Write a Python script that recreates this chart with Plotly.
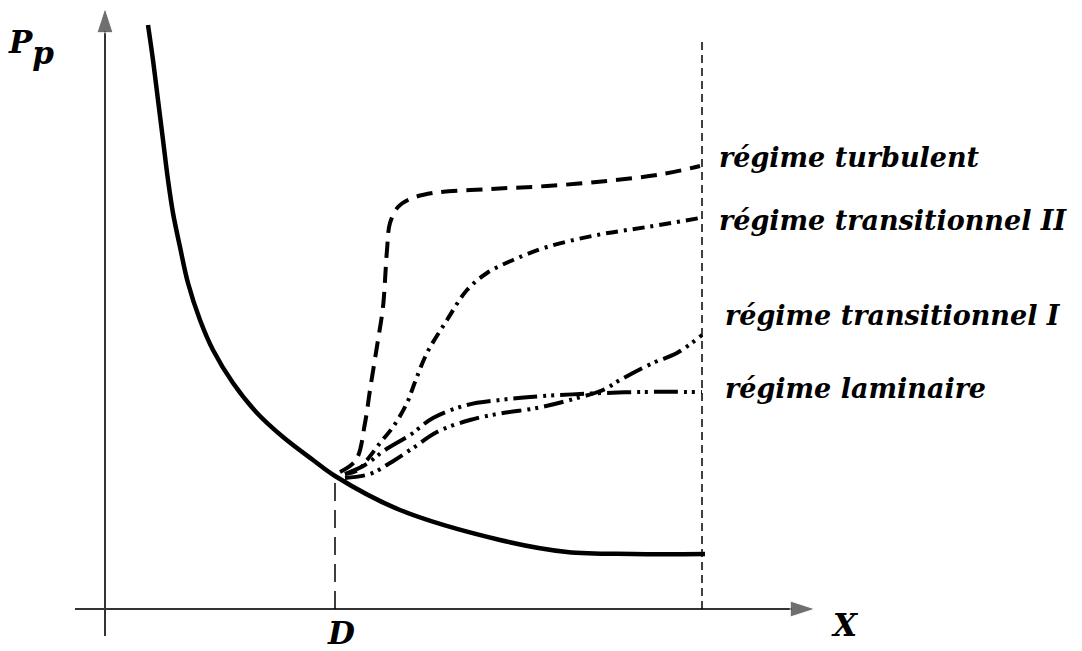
''' Schematic: wall pressure Pp vs distance X, regimes after point D '''

import plotly.graph_objects as go

# (arbitrary units: x from the vertical axis, y from the horizontal axis)
X_D = 2.30          # position of D
X_END = 5.97        # right-hand dashed limit
Y_END_TOP = 5.71    # top of the right-hand dashed limit

BASE_X = [0.43, 0.48, 0.53, 0.58, 0.63, 0.68, 0.75, 0.83, 0.95, 1.08, 1.28, 1.52, 1.78, 2.08, 2.30,
          2.95, 3.95, 4.62, 5.28, 6.00]
BASE_Y = [5.84, 5.49, 5.09, 4.69, 4.29, 3.96, 3.62, 3.26, 2.89, 2.59, 2.26, 1.96, 1.72, 1.49, 1.33,
          0.99, 0.69, 0.57, 0.55, 0.55]
Y_AT_D = 1.31

TURB_X = [2.35, 2.51, 2.60, 2.65, 2.73, 2.78, 2.82, 2.85, 2.93, 3.05, 3.28, 3.85, 4.42, 5.02, 5.58, 5.95]
TURB_Y = [1.37, 1.49, 1.86, 2.19, 2.69, 3.02, 3.59, 3.86, 4.02, 4.10, 4.16, 4.20, 4.23, 4.28, 4.35, 4.43]

TR2_X = [2.40, 2.53, 2.62, 2.75, 2.88, 3.02, 3.10, 3.22, 3.42, 3.62, 3.82, 4.08, 4.42, 4.92, 5.42, 5.95]
TR2_Y = [1.35, 1.39, 1.49, 1.66, 1.82, 2.06, 2.27, 2.56, 2.89, 3.19, 3.36, 3.49, 3.62, 3.74, 3.82, 3.91]

TR1_X = [2.40, 2.65, 2.85, 3.08, 3.32, 3.65, 3.98, 4.32, 4.65, 4.98, 5.15, 5.48, 5.72, 5.97]
TR1_Y = [1.31, 1.35, 1.46, 1.61, 1.77, 1.89, 1.96, 2.01, 2.09, 2.19, 2.29, 2.46, 2.56, 2.74]

LAM_X = [2.40, 2.60, 2.80, 3.05, 3.28, 3.62, 3.95, 4.25, 4.75, 5.35, 5.97]
LAM_Y = [1.35, 1.44, 1.59, 1.74, 1.91, 2.04, 2.09, 2.12, 2.15, 2.17, 2.17]

LABELS = ['régime turbulent', 'régime transitionnel II', 'régime transitionnel I', 'régime laminaire']
LABEL_X = [6.12, 6.12, 6.18, 6.18]
LABEL_Y = [4.52, 3.89, 2.94, 2.21]

# Axis extents (tail, tip)
YAXIS_Y = [-0.27, 6.01]
XAXIS_X = [-0.30, 7.10]

FONT = dict(family='DejaVu Serif', color='black', weight='bold', style='italic')
AXIS_COLOR = '#333'

fig = go.Figure()

# Axes drawn as lines with an arrow marker at the tip
fig.add_trace(go.Scatter(x=[0, 0], y=YAXIS_Y, mode='lines+markers',
                         line=dict(color=AXIS_COLOR, width=2),
                         marker=dict(symbol='arrow', size=[0, 26], angleref='previous', color=AXIS_COLOR)))
fig.add_trace(go.Scatter(x=XAXIS_X, y=[0, 0], mode='lines+markers',
                         line=dict(color=AXIS_COLOR, width=2),
                         marker=dict(symbol='arrow', size=[0, 26], angleref='previous', color=AXIS_COLOR)))

# Main decreasing curve
fig.add_trace(go.Scatter(x=BASE_X, y=BASE_Y, mode='lines',
                         line=dict(color='black', width=4.5, shape='spline')))

# Four regime curves branching off at D
styles = [
    (TURB_X, TURB_Y, '16px,9px'),
    (TR2_X, TR2_Y, '12px,6px,3px,6px'),
    (TR1_X, TR1_Y, '20px,6px,3px,5px,3px,6px'),
    (LAM_X, LAM_Y, '24px,6px,3px,5px,3px,6px'),
]
for xs, ys, dash in styles:
    fig.add_trace(go.Scatter(x=xs, y=ys, mode='lines',
                             line=dict(color='black', width=4, dash=dash, shape='spline')))

# Vertical dashed guides at D and at the end
fig.add_trace(go.Scatter(x=[X_D, X_D], y=[0, Y_AT_D], mode='lines',
                         line=dict(color='black', width=1.5, dash='18px,9px')))
fig.add_trace(go.Scatter(x=[X_END, X_END], y=[0, Y_END_TOP], mode='lines',
                         line=dict(color='black', width=1.5, dash='8px,5px')))

# Regime labels
for txt, lx, ly in zip(LABELS, LABEL_X, LABEL_Y):
    fig.add_annotation(x=lx, y=ly, text=txt, showarrow=False, xanchor='left', yanchor='middle',
                       font=dict(FONT, size=27))

# Axis labels (Pp: full-size, well-dropped subscript as in the drawing)
fig.add_annotation(x=-0.74, y=5.62,
                   text="P<sub><sub><span style='font-size:31px'>p</span></sub></sub>",
                   showarrow=False, font=dict(FONT, size=31))
fig.add_annotation(x=2.36, y=-0.24, text='D', showarrow=False, font=dict(FONT, size=31))
fig.add_annotation(x=7.40, y=-0.16, text='X', showarrow=False, font=dict(FONT, size=31))

# The page puts an 8px body margin around the figure, so shift the ranges to compensate
fig.update_layout(
    width=1082, height=651,
    margin=dict(l=0, r=0, t=0, b=0),
    paper_bgcolor='white', plot_bgcolor='white',
    showlegend=False,
)
fig.update_xaxes(range=[-0.97, 9.85], visible=False)
fig.update_yaxes(range=[-0.50, 6.01], visible=False)

fig.write_html("out.html")
